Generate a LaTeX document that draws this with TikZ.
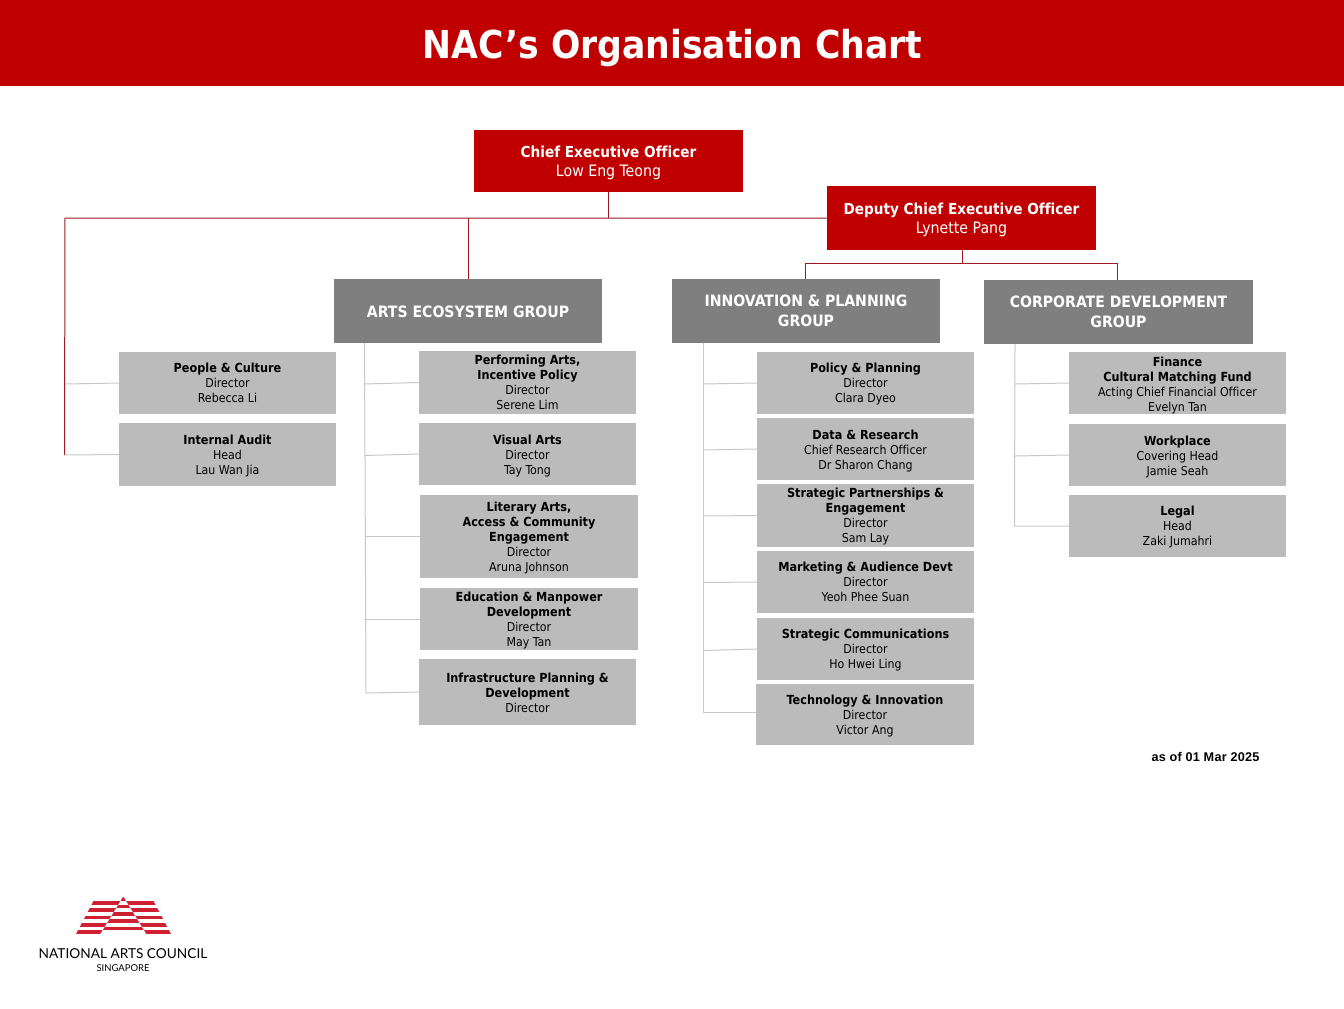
\documentclass[tikz,border=0pt]{standalone}
\usepackage{fontspec}
\setmainfont[BoldFeatures={Scale=1.02},Ligatures=NoCommon]{DejaVu Sans Condensed}
\newfontfamily\arialfont[LetterSpace=2]{Liberation Sans}
\newfontfamily\logofont{Lato}
\definecolor{nacred}{HTML}{C00000}
\definecolor{groupgrey}{HTML}{7F7F7F}
\definecolor{unitgrey}{HTML}{BBBBBB}
\definecolor{linkgrey}{HTML}{C8C8C8}
\definecolor{linkred}{HTML}{A01820}
\definecolor{logored}{HTML}{CE2030}
\tikzset{
  x=0.75pt,y=-0.75pt,
  basebox/.style={inner sep=0pt,outer sep=0pt,align=center},
  leadbox/.style={basebox,fill=nacred},
  leadtext/.style={basebox,text=white,font=\fontsize{11.15}{14.8}\selectfont},
  groupbox/.style={basebox,fill=groupgrey},
  grouptext/.style={basebox,text=white,font=\fontsize{11.5}{14.3}\selectfont\bfseries},
  unitbox/.style={basebox,fill=unitgrey},
  unittext/.style={basebox,text=black,font=\fontsize{9.2}{11.25}\selectfont},
  redlink/.style={draw=linkred,line width=0.75pt},
  greylink/.style={draw=linkgrey,line width=0.75pt},
}
\newcommand{\personname}[1]{{\fontsize{11.8}{14.8}\selectfont #1}}
% style prefix, name, x0, y0, x1, y1, text drop, text
\newcommand{\orgbox}[8]{%
  \pgfmathsetmacro{\bw}{(#5-#3)*0.75}\pgfmathsetmacro{\bh}{(#6-#4)*0.75}%
  \node[#1box,minimum width=\bw pt,minimum height=\bh pt] (#2) at ({(#3+#5)/2},{(#4+#6)/2}) {};
  \node[#1text] (#2-label) at ({(#3+#5)/2},{(#4+#6)/2+#7}) {#8};}
\begin{document}
\begin{tikzpicture}
\useasboundingbox (0,0) rectangle (1344,1008);
\node[fill=nacred,inner sep=0pt,minimum width=1008pt,minimum height=64.5pt] (title) at (672,43) {};
\node[inner sep=0pt,text=white,font=\fontsize{28.3}{36}\selectfont\bfseries] (titletext) at (672.5,48) {NAC’s Organisation Chart};

\orgbox{lead}{ceo}{474}{130}{743}{192}{1.8}{\textbf{Chief Executive Officer}\\\personname{Low Eng Teong}}
\orgbox{lead}{dceo}{827}{186}{1096}{250}{1.8}{\textbf{Deputy Chief Executive Officer}\\\personname{Lynette Pang}}
\orgbox{group}{arts}{334}{279}{602}{343}{0.7}{ARTS ECOSYSTEM GROUP}
\orgbox{group}{innov}{672}{279}{940}{343}{-0.2}{INNOVATION \& PLANNING\\GROUP}
\orgbox{group}{corp}{984}{280}{1253}{344}{-0.2}{CORPORATE DEVELOPMENT\\GROUP}

\orgbox{unit}{people}{119}{352}{336}{414}{0.2}{\textbf{People \& Culture}\\Director\\Rebecca Li}
\orgbox{unit}{audit}{119}{423}{336}{486}{1.6}{\textbf{Internal Audit}\\Head\\Lau Wan Jia}

\orgbox{unit}{perf}{419}{351}{636}{414}{0}{\textbf{Performing Arts,}\\\textbf{Incentive Policy}\\Director\\Serene Lim}
\orgbox{unit}{visual}{419}{423}{636}{485}{2}{\textbf{Visual Arts}\\Director\\Tay Tong}
\orgbox{unit}{literary}{420}{495}{638}{578}{1.6}{\textbf{Literary Arts,}\\\textbf{Access \& Community}\\\textbf{Engagement}\\Director\\Aruna Johnson}
\orgbox{unit}{edu}{420}{588}{638}{650}{1.2}{\textbf{Education \& Manpower}\\\textbf{Development}\\Director\\May Tan}
\orgbox{unit}{infra}{419}{659}{636}{725}{1.3}{\textbf{Infrastructure Planning \&}\\\textbf{Development}\\Director}

\orgbox{unit}{policy}{757}{352}{974}{414}{1}{\textbf{Policy \& Planning}\\Director\\Clara Dyeo}
\orgbox{unit}{data}{757}{418}{974}{480}{2}{\textbf{Data \& Research}\\Chief Research Officer\\Dr Sharon Chang}
\orgbox{unit}{partner}{757}{484}{974}{547}{1.5}{\textbf{Strategic Partnerships \&}\\\textbf{Engagement}\\Director\\Sam Lay}
\orgbox{unit}{market}{757}{551}{974}{613}{0.2}{\textbf{Marketing \& Audience Devt}\\Director\\Yeoh Phee Suan}
\orgbox{unit}{comms}{757}{618}{974}{680}{1.3}{\textbf{Strategic Communications}\\Director\\Ho Hwei Ling}
\orgbox{unit}{tech}{756}{684}{974}{745}{2}{\textbf{Technology \& Innovation}\\Director\\Victor Ang}

\orgbox{unit}{finance}{1069}{352}{1286}{414}{2.5}{\textbf{Finance}\\\textbf{Cultural Matching Fund}\\Acting Chief Financial Officer\\Evelyn Tan}
\orgbox{unit}{work}{1069}{424}{1286}{486}{1.7}{\textbf{Workplace}\\Covering Head\\Jamie Seah}
\orgbox{unit}{legal}{1069}{495}{1286}{557}{1.3}{\textbf{Legal}\\Head\\Zaki Jumahri}

% red connectors
\coordinate (hl) at (65,218);
\coordinate (hb) at (64.5,455);
\coordinate (cj) at (ceo.south |- hl);
\coordinate (aj) at (arts.north |- hl);
\coordinate (dj) at (962,263.5);
\coordinate (il) at (805.5,263.5);
\coordinate (cl) at (1117,263.5);
\draw[redlink] (ceo.south) -- (cj);
\draw[redlink] (hb) -- (hl) -- (hl -| dceo.west);
\draw[redlink] (aj) -- (arts.north);
\draw[redlink] (dj |- dceo.south) -- (dj);
\draw[redlink] (il |- innov.north) -- (il) -- (cl) -- (cl |- corp.north);

% grey connectors
\coordinate (pa) at (65,384);
\draw[greylink] (pa) -- (people.west);
\draw[greylink] (hb) -- (audit.west);

\coordinate (at0) at (364.5,343);
\coordinate (at5) at (366,693);
\draw[greylink] (at0) -- (at5) -- (infra.west);
\foreach \n/\y/\t in {perf/384/365,visual/455.5/365,literary/536.5/365.5,edu/619/366}{
  \coordinate (b\n) at (\t,\y);
  \draw[greylink] (b\n) -- (\n.west);
}

\coordinate (it0) at (703,343);
\coordinate (it5) at (703,712);
\draw[greylink] (it0) -- (it5) -- (tech.west |- it5);
\foreach \n/\y in {policy/384,data/450,partner/516,market/582.5,comms/650.5}{
  \coordinate (b\n) at (703,\y);
  \draw[greylink] (b\n) -- (\n.west);
}

\coordinate (ct0) at (1015,344);
\coordinate (ct3) at (1014.5,526);
\draw[greylink] (ct0) -- (ct3) -- (legal.west);
\foreach \n/\y in {finance/384,work/456}{
  \coordinate (b\n) at (1015,\y);
  \draw[greylink] (b\n) -- (\n.west);
}

\node[inner sep=0pt,font=\arialfont\fontsize{9.5}{11}\selectfont\bfseries] (asof) at (1205.5,757) {as of 01 Mar 2025};

% logo
\begin{scope}
  \clip (93.5,901) -- (153.5,901) -- (171,934) -- (76,934) -- cycle;
  \foreach \ya/\yb in {901/904.8,908.2/912,915.5/919.3,922.8/926.6,930/934}{
    \fill[logored] (70,\ya) rectangle (180,\yb);
  }
\end{scope}
\fill[white] (123.3,896.5) -- (146.5,934.5) -- (100,934.5) -- cycle;
\begin{scope}
  \clip (123.3,896.5) -- (144,930.5) -- (102.6,930.5) -- cycle;
  \foreach \ya/\yb in {896/900.5,904.6/908.2,912/915.5,919.3/922.8,926.6/930.2}{
    \fill[logored] (90,\ya) rectangle (160,\yb);
  }
\end{scope}
\node[inner sep=0pt,font=\logofont\fontsize{10.25}{13}\selectfont] (logoname) at (123,953.5) {NATIONAL ARTS COUNCIL};
\node[inner sep=0pt,font=\logofont\fontsize{7.1}{8}\selectfont] (logosub) at (123,968) {SINGAPORE};
\end{tikzpicture}
\end{document}
